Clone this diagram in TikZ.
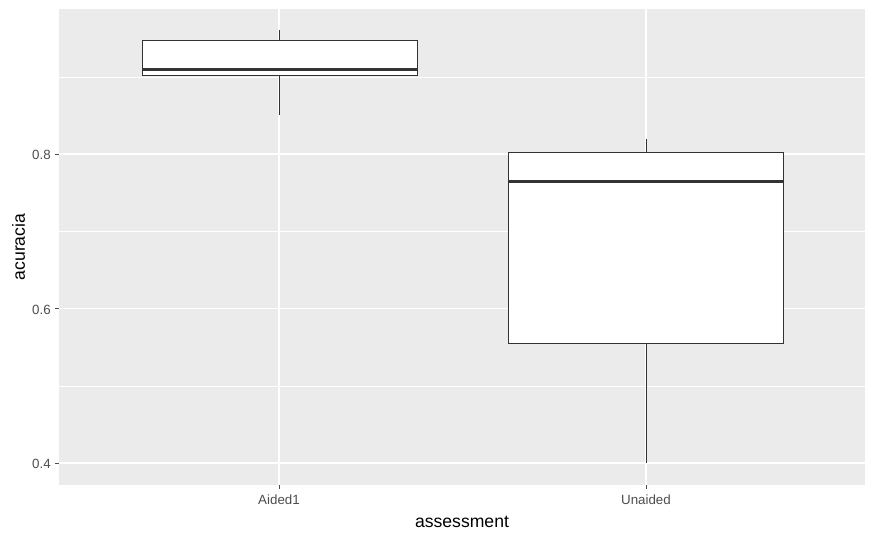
\documentclass[tikz,border=0pt]{standalone}
\usepackage{fontspec}
\setmainfont{Liberation Sans}
\definecolor{panelgris}{HTML}{EBEBEB}
\definecolor{textogris}{HTML}{4D4D4D}
\definecolor{cajagris}{HTML}{333333}
\tikzset{
  rejilla/.style={white,line width=0.8pt},
  rejillamenor/.style={white,line width=0.4pt},
  caja/.style={draw=cajagris,fill=white,line width=0.75pt},
  bigote/.style={cajagris,line width=0.75pt},
  mediana/.style={cajagris,line width=2pt},
  marca/.style={textogris,line width=0.75pt},
  etiqueta/.style={textogris,font=\fontsize{10}{12}\selectfont,inner sep=0pt},
  titulo/.style={black,font=\fontsize{13.2}{15}\selectfont,inner sep=0pt}
}
\begin{document}
\begin{tikzpicture}[x=0.75pt,y=-0.75pt]
        \useasboundingbox (0,0) rectangle (875,540);
        \fill[panelgris] (59,9) rectangle (865,485); % panel
        \foreach \y in {77,231.5,386}
        \draw[rejillamenor] (59,\y) -- (865,\y);
        \foreach \y in {154,308.5,463}
        \draw[rejilla] (59,\y) -- (865,\y);
        \foreach \x in {279,646}
        \draw[rejilla] (\x,9) -- (\x,485);
        % Aided1
        \draw[bigote] (279,30) -- (279,114.5);
        \draw[caja] (142.5,40.5) rectangle (417,75.5);
        \draw[mediana] (142.5,69.5) -- (417,69.5);
        % Unaided
        \draw[bigote] (646,138.5) -- (646,463);
        \draw[caja] (508.5,152.5) rectangle (783.5,343.5);
        \draw[mediana] (508.5,181.5) -- (783.5,181.5);
        % ejes
        \foreach \y/\v in {154/0.8,308.5/0.6,463/0.4}
        {\draw[marca] (55,\y) -- (59,\y);
         \node[etiqueta,anchor=east] (y\v) at (51,\y+1) {\v};}
        \foreach \x/\n in {279/Aided1,646/Unaided}
        {\draw[marca] (\x,485) -- (\x,489);
         \node[etiqueta] (x\n) at (\x,500) {\n};}
        \node[titulo] (xtit) at (462,521.5) {assessment};
        \node[titulo,rotate=90] (ytit) at (18.5,247) {acuracia};
\end{tikzpicture}
\end{document}
